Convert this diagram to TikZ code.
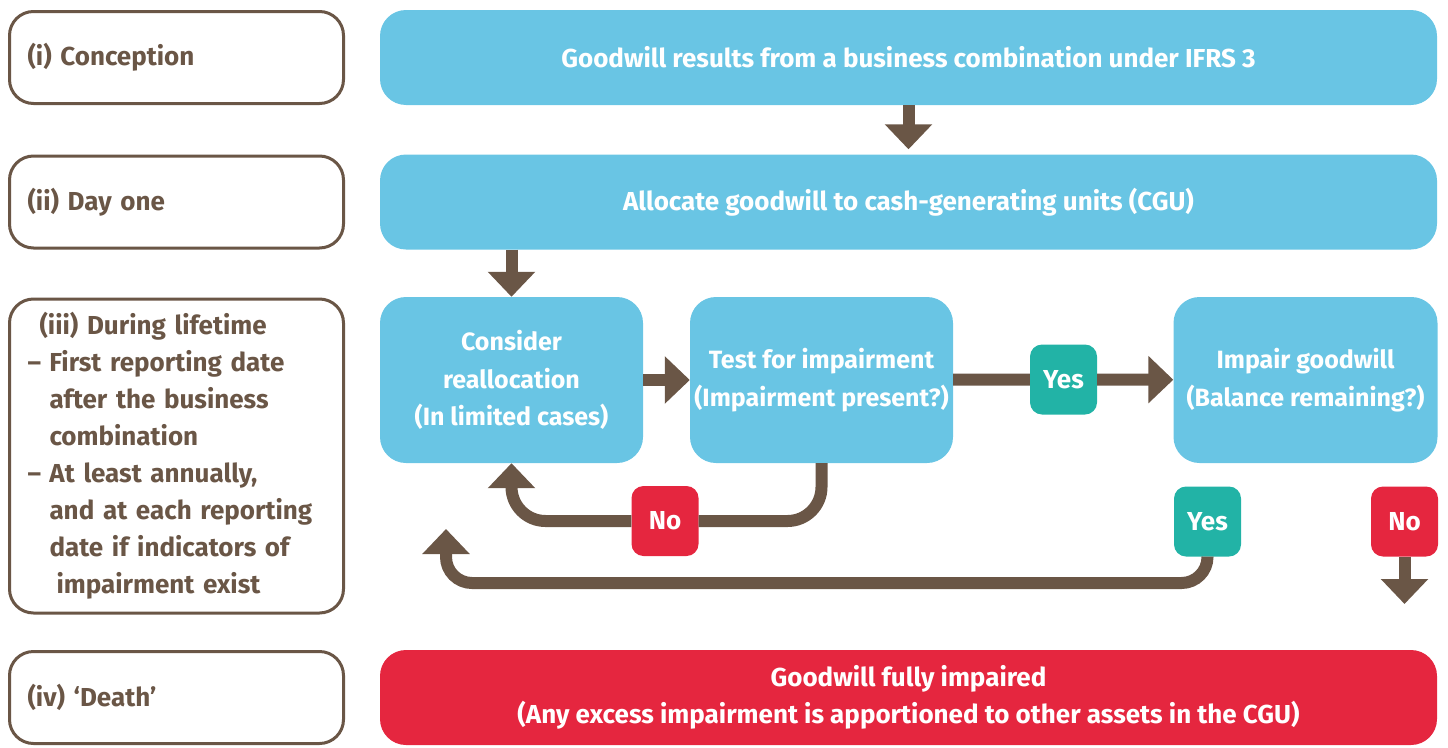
\documentclass[tikz,border=0pt]{standalone}
\usepackage{fontspec}
\setmainfont{Fira Sans}
\usetikzlibrary{arrows.meta}
\definecolor{umber}{HTML}{6A5646}
\definecolor{skyblue}{HTML}{69C5E4}
\definecolor{yesgreen}{HTML}{22B3A6}
\definecolor{nored}{HTML}{E5263F}

\begin{document}
\begin{tikzpicture}[x = 1pt, y = -1pt,
  every node/.style = {font=\bfseries\fontsize{26}{37}\selectfont},
  stage/.style = {draw=umber, line width=3pt, rounded corners=24pt, fill=white, text=umber,
    minimum width=334pt, minimum height=92pt, text width=298pt, align=left, inner xsep=18pt},
  proc/.style = {fill=skyblue, rounded corners=26pt, text=white, align=center,
    minimum height=95pt, inner sep=0pt},
  small/.style = {proc, minimum width=263pt, minimum height=166pt, font=\bfseries\fontsize{25}{37.5}\selectfont},
  answer/.style = {rounded corners=12pt, text=white, minimum width=67pt, minimum height=70pt, inner sep=0pt},
  flow/.style = {draw=umber, line width=12pt, -{Triangle[width=46pt,length=25pt]}}]
\useasboundingbox (0,0) rectangle (1448,747);
% stages on the left
\node[stage] (conc) at (176.5,57.5) {(i) Conception};
\node[stage] (day) at (176.5,202) {(ii) Day one};
\node[stage, minimum height=314pt] (life) at (176.5,456)
  {\hspace*{12pt}(iii) During lifetime\\
   \makebox[22pt][l]{–}First reporting date\\
   \hspace*{22pt}after the business\\
   \hspace*{22pt}combination\\
   \makebox[22pt][l]{–}At least annually,\\
   \hspace*{22pt}and at each reporting\\
   \hspace*{22pt}date if indicators of\\
   \hspace*{29pt}impairment exist};
\node[stage] (death) at (176.5,697.5) {(iv) ‘Death’};
% process boxes
\node[proc, minimum width=1057pt] (origin) at (908.5,57.5) {Goodwill results from a business combination under IFRS 3};
\node[proc, minimum width=1057pt] (alloc) at (908.5,202) {Allocate goodwill to cash-generating units (CGU)};
\node[small] (realloc) at (511.5,380) {Consider\\reallocation\\(In limited cases)};
\node[small] (test) at (821.5,380) {Test for impairment\\(Impairment present?)};
\node[small, minimum width=264pt] (impair) at (1305.5,380) {Impair goodwill\\(Balance remaining?)};
\node[proc, fill=nored, minimum width=1057pt] (dead) at (908.5,697.5)
  {Goodwill fully impaired\\(Any excess impairment is apportioned to other assets in the CGU)};
% answers
\node[answer, fill=yesgreen] (yesA) at (1063.5,379.5) {Yes};
\node[answer, fill=nored] (noA) at (665,521) {No};
\node[answer, fill=yesgreen] (yesB) at (1207.5,521.5) {Yes};
\node[answer, fill=nored] (noB) at (1404.5,521.5) {No};
\coordinate (loopturn) at (446,583);
\coordinate (loopend) at (446,529);
\coordinate (out) at (1404.5,604);
% connectors
\draw[flow, shorten >=5pt] (origin) -- (alloc);
\draw[flow] (alloc.south -| realloc) -- (realloc);
\draw[flow] (realloc) -- (test);
\draw[flow] (test) -- (yesA) -- (impair);
\draw[flow, rounded corners=34pt] (test) |- (noA) -| (realloc);
\draw[flow, rounded corners=26pt] (yesB) |- (loopturn) -- (loopend);
\draw[flow] (noB) -- (out);
\end{tikzpicture}
\end{document}
